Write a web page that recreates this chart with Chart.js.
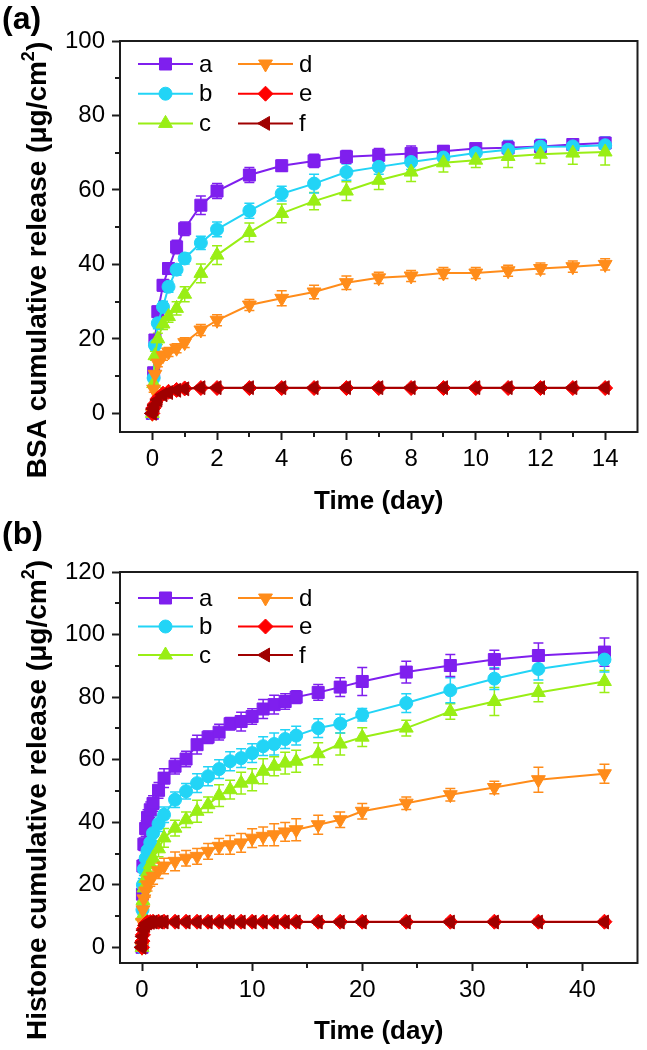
<!DOCTYPE html>
<html>
<head>
<meta charset="utf-8">
<script src="https://cdn.jsdelivr.net/npm/chart.js@4.4.1/dist/chart.umd.min.js"></script>
<style>
  html, body { margin: 0; padding: 0; background: #fff; }
  body { width: 647px; height: 1050px; position: relative; overflow: hidden; font-family: 'Liberation Sans', Arial, sans-serif; }
  .box { position: absolute; left: 0; width: 647px; }
  .panel { position: absolute; left: 2px; font-weight: bold; font-size: 32px; line-height: 36px; z-index: 2; }
</style>
</head>
<body>
<div class="box" style="top:0;height:520px"><canvas id="bsa"></canvas></div>
<div class="box" style="top:520px;height:530px"><canvas id="histone"></canvas></div>
<div class="panel" style="top:0px">(a)</div>
<div class="panel" style="top:515px">(b)</div>
<script>
// ---- (a) BSA release, days ----
const bsaDays = [0, 0.04, 0.08, 0.17, 0.33, 0.5, 0.75, 1, 1.5, 2, 3, 4, 5, 6, 7, 8, 9, 10, 11, 12, 13, 14];
const bsaA = [0, 10.9, 19.7, 27.3, 34.4, 38.9, 44.7, 49.6, 55.9, 59.7, 64, 66.5, 67.8, 68.9, 69.3, 69.8, 70.4, 71.1, 71.3, 71.7, 72.2, 72.6];
const bsaB = [0, 9.5, 18.3, 24.2, 28.6, 34, 38.6, 41.6, 45.8, 49.4, 54.4, 59, 61.7, 64.8, 66.2, 67.5, 68.7, 69.9, 70.8, 71.6, 71.7, 72];
const bsaC = [0, 8, 15.5, 20, 24, 26, 28.2, 32, 37.6, 42.5, 48.6, 53.7, 57, 59.7, 62.6, 64.8, 67.3, 68, 69, 69.6, 69.9, 70.2];
const bsaD = [0, 6.5, 10.5, 13.5, 15.5, 16.5, 17.5, 19, 22.4, 25, 29.1, 30.9, 32.6, 35.1, 36.4, 36.9, 37.7, 37.7, 38.3, 38.9, 39.4, 40];
const bsaE = [0, 1.5, 2.5, 4, 5.3, 5.8, 6.3, 6.7, 6.8, 6.8, 6.8, 6.8, 6.8, 6.8, 6.8, 6.8, 6.8, 6.8, 6.8, 6.8, 6.8, 6.8];
const bsaF = [0, 1.2, 2.2, 3.6, 5, 5.6, 6.2, 6.6, 6.9, 6.9, 6.9, 6.9, 6.9, 6.9, 6.9, 6.9, 6.9, 6.9, 6.9, 6.9, 6.9, 6.9];
// error bars (+/-)
const bsaErrA = [0.3, 1, 1.2, 1.5, 1.5, 1.5, 1.8, 1.8, 2.5, 2, 2, 1.5, 1.8, 1.7, 1.8, 2, 1.5, 1.3, 1.8, 1.8, 1.5, 1.5];
const bsaErrB = [0.3, 1, 1.2, 1.5, 1.5, 1.5, 1.5, 1.5, 1.8, 2, 2, 2, 2.5, 2.2, 2, 2, 2, 2, 2.5, 2, 2, 2.2];
const bsaErrC = [0.3, 1, 1.2, 1.5, 1.5, 1.5, 1.8, 2, 2.5, 2.5, 2.5, 2.5, 2.3, 2.5, 2.5, 2.5, 2.5, 2, 3, 2.5, 3, 3.5];
const bsaErrD = [0.3, 0.8, 1, 1, 1.2, 1.2, 1.2, 1.3, 1.5, 1.5, 1.5, 2, 1.8, 1.8, 1.5, 1.5, 1.5, 1.5, 1.5, 1.5, 1.5, 1.5];
const bsaErrE = [0.3, 0.6, 0.6, 0.6, 0.6, 0.6, 0.6, 0.6, 0.6, 0.6, 0.6, 0.6, 0.6, 0.6, 0.6, 0.6, 0.6, 0.6, 0.6, 0.6, 0.6, 0.6];
const bsaErrF = [0.3, 0.6, 0.6, 0.6, 0.6, 0.6, 0.6, 0.6, 0.6, 0.6, 0.6, 0.6, 0.6, 0.6, 0.6, 0.6, 0.6, 0.6, 0.6, 0.6, 0.6, 0.6];

// ---- (b) Histone release, days ----
const hisDays = [0, 0.04, 0.08, 0.17, 0.33, 0.5, 0.75, 1, 1.5, 2, 3, 4, 5, 6, 7, 8, 9, 10, 11, 12, 13, 14, 16, 18, 20, 24, 28, 32, 36, 42];
const hisA = [0, 17, 26, 33, 38, 41.5, 44, 46, 50.2, 54.1, 57.9, 60.2, 64.8, 67.2, 68.8, 71.5, 72.2, 73.8, 76.2, 77.6, 78.6, 80, 81.5, 83.2, 85, 88, 90.1, 92, 93.3, 94.4];
const hisB = [0, 12, 20, 25, 28.5, 31, 33.5, 36.5, 39.5, 42.4, 47.2, 49.9, 52.5, 54.7, 57, 59.5, 60.5, 62.1, 64.3, 65, 66.6, 67.7, 70.1, 71.5, 74.4, 78.1, 82.2, 85.9, 89, 92];
const hisC = [0, 10, 15, 19, 22, 24, 26.5, 28.5, 31.5, 35, 38.1, 40.8, 43.5, 45.6, 48.5, 50.4, 52.5, 53.6, 56.3, 57.9, 58.9, 59.5, 61.9, 65, 67.2, 70.1, 75.4, 78.6, 81.5, 85];
const hisD = [0, 8, 12, 15.5, 18, 20, 21.5, 22.7, 24.5, 26, 27.5, 28.5, 29.1, 30.7, 32.3, 32.8, 33.4, 34.9, 35.5, 36, 36.9, 37.6, 39.2, 40.8, 43.5, 46.1, 48.8, 51.1, 53.6, 55.5];
const hisE = [0, 2, 4, 6, 7.5, 8, 8.1, 8.2, 8.2, 8.2, 8.2, 8.2, 8.2, 8.2, 8.2, 8.2, 8.2, 8.2, 8.2, 8.2, 8.2, 8.2, 8.2, 8.2, 8.2, 8.2, 8.2, 8.2, 8.2, 8.2];
const hisF = [0, 1.5, 3.5, 5.5, 7, 7.8, 8, 8.1, 8.1, 8.1, 8.1, 8.1, 8.1, 8.1, 8.1, 8.1, 8.1, 8.1, 8.1, 8.1, 8.1, 8.1, 8.1, 8.1, 8.1, 8.1, 8.1, 8.1, 8.1, 8.1];
const hisErrA = [0.5, 1.5, 2, 2, 2.5, 2.5, 2.5, 2.5, 2.5, 3, 2.5, 2.5, 3, 2, 2.5, 2, 3, 2.5, 3, 3, 2.5, 2, 2.5, 3, 4.5, 3.5, 3.5, 3, 4, 4.5];
const hisErrB = [0.5, 1.5, 2, 2, 2, 2.5, 2.5, 2.5, 2.5, 2.5, 2.5, 2.5, 3, 3, 3, 3, 3, 3, 3, 3.5, 3, 3, 3, 3, 2, 3, 4, 3.5, 3.5, 4];
const hisErrC = [0.5, 1.5, 2, 2, 2, 2, 2.5, 2.5, 2.5, 3, 2.5, 2.5, 3.5, 2.5, 3.5, 3, 3.5, 3.5, 4, 3, 3.5, 3.5, 3.5, 3.5, 3, 2.5, 2.5, 4.5, 3, 3.5];
const hisErrD = [0.5, 1, 1.5, 1.5, 2, 2, 2, 2.5, 2.5, 2.5, 3, 2.5, 2.5, 2.5, 2.5, 3, 3, 3, 3, 3.5, 3, 3.5, 3, 2.5, 2.5, 2, 2, 2, 4, 3];
const hisErrE = [0.3, 0.8, 0.8, 0.8, 0.8, 0.8, 0.8, 0.8, 0.8, 0.8, 0.8, 0.8, 0.8, 0.8, 0.8, 0.8, 0.8, 0.8, 0.8, 0.8, 0.8, 0.8, 0.8, 0.8, 0.8, 0.8, 0.8, 0.8, 0.8, 0.8];
const hisErrF = [0.3, 0.8, 0.8, 0.8, 0.8, 0.8, 0.8, 0.8, 0.8, 0.8, 0.8, 0.8, 0.8, 0.8, 0.8, 0.8, 0.8, 0.8, 0.8, 0.8, 0.8, 0.8, 0.8, 0.8, 0.8, 0.8, 0.8, 0.8, 0.8, 0.8];

// series look
const names = ['a', 'b', 'c', 'd', 'e', 'f'];
const colors = ['#7F1FEE', '#22D4F6', '#99EE15', '#FF8C1A', '#FF0000', '#A00000'];
const styles = ['rect', 'circle', 'triangle', 'triangle', 'rectRot', 'triangle'];
const rotations = [0, 0, 0, 180, 0, -90];
const radii = [8.5, 6.5, 8, 8, 7.5, 8];

Chart.defaults.font.family = "'Liberation Sans', Arial, sans-serif";
Chart.defaults.color = '#000';
const axisColor = '#1c1c1c';

function isMajor(v, step) {
  return Math.abs(v / step - Math.round(v / step)) < 1e-6;
}

// error bars under the lines
const errorBars = {
  id: 'errorBars',
  beforeDatasetsDraw(chart) {
    const ctx = chart.ctx, xs = chart.scales.x, ys = chart.scales.y;
    ctx.save();
    for (let i = chart.data.datasets.length - 1; i >= 0; i--) {
      const ds = chart.data.datasets[i];
      ctx.strokeStyle = ds.borderColor;
      ctx.lineWidth = 1.5;
      ds.data.forEach((p, k) => {
        const e = ds.err[k];
        const px = xs.getPixelForValue(p.x);
        const top = ys.getPixelForValue(p.y + e);
        const bot = ys.getPixelForValue(p.y - e);
        ctx.beginPath();
        ctx.moveTo(px, top); ctx.lineTo(px, bot);
        ctx.moveTo(px - 5, top); ctx.lineTo(px + 5, top);
        ctx.moveTo(px - 5, bot); ctx.lineTo(px + 5, bot);
        ctx.stroke();
      });
    }
    ctx.restore();
  }
};

// top/right frame + short minor ticks
const frameTicks = {
  id: 'frameTicks',
  afterDraw(chart, args, o) {
    const ctx = chart.ctx, a = chart.chartArea;
    const xs = chart.scales.x, ys = chart.scales.y;
    ctx.save();
    ctx.strokeStyle = axisColor;
    ctx.lineWidth = 2;
    ctx.beginPath();
    ctx.moveTo(a.left, a.top); ctx.lineTo(a.right, a.top); ctx.lineTo(a.right, a.bottom + 1);
    ctx.stroke();
    xs.ticks.forEach(t => {
      if (isMajor(t.value, o.xMajor) || t.value <= xs.min || t.value >= xs.max) return;
      const px = Math.round(xs.getPixelForValue(t.value));
      ctx.beginPath(); ctx.moveTo(px, a.bottom); ctx.lineTo(px, a.bottom + 5); ctx.stroke();
    });
    ys.ticks.forEach(t => {
      if (isMajor(t.value, o.yMajor) || t.value <= ys.min || t.value >= ys.max) return;
      const py = Math.round(ys.getPixelForValue(t.value));
      ctx.beginPath(); ctx.moveTo(a.left, py); ctx.lineTo(a.left - 5, py); ctx.stroke();
    });
    ctx.restore();
  }
};

// two-column legend inside the plot
const legendBox = {
  id: 'legendBox',
  afterDraw(chart, args, o) {
    const ctx = chart.ctx, a = chart.chartArea;
    ctx.save();
    ctx.font = "24px 'Liberation Sans', Arial, sans-serif";
    ctx.textBaseline = 'middle';
    chart.data.datasets.forEach((ds, i) => {
      const col = Math.floor(i / 3), row = i % 3;
      const x0 = a.left + 18 + col * 100;
      const y = a.top + o.top + row * o.gap;
      ctx.strokeStyle = ds.borderColor;
      ctx.fillStyle = ds.backgroundColor;
      ctx.lineWidth = 2;
      ctx.beginPath(); ctx.moveTo(x0, y); ctx.lineTo(x0 + 55, y); ctx.stroke();
      ctx.lineWidth = 1;
      Chart.helpers.drawPoint(ctx, { pointStyle: ds.pointStyle, rotation: ds.pointRotation, radius: ds.pointRadius, borderWidth: 1 }, x0 + 27.5, y);
      ctx.fillStyle = '#000';
      ctx.fillText(ds.label, x0 + 61, y + 1);
    });
    ctx.restore();
  }
};

// rotated y title with superscript 2
const yTitle = {
  id: 'yTitle',
  afterDraw(chart, args, o) {
    const ctx = chart.ctx;
    const big = 'bold ' + o.size + "px 'Liberation Sans', Arial, sans-serif";
    const small = "bold 18px 'Liberation Sans', Arial, sans-serif";
    ctx.save();
    ctx.translate(o.x, o.y);
    ctx.rotate(-Math.PI / 2);
    ctx.fillStyle = '#000';
    ctx.textBaseline = 'middle';
    ctx.textAlign = 'left';
    ctx.font = big;
    const w1 = ctx.measureText(o.text).width, w3 = ctx.measureText(')').width;
    ctx.font = small;
    const w2 = ctx.measureText('2').width;
    let x = -(w1 + w2 + w3) / 2;
    ctx.font = big; ctx.fillText(o.text, x, 0); x += w1;
    ctx.font = small; ctx.fillText('2', x, -9); x += w2;
    ctx.font = big; ctx.fillText(')', x, 0);
    ctx.restore();
  }
};

function buildSets(days, series, errs) {
  return series.map((vals, i) => ({
    label: names[i],
    data: days.map((d, k) => ({ x: d, y: vals[k] })),
    err: errs[i],
    showLine: true,
    borderColor: colors[i],
    backgroundColor: colors[i],
    borderWidth: 2,
    pointStyle: styles[i],
    pointRotation: rotations[i],
    pointRadius: radii[i],
    pointBorderWidth: 1,
    tension: 0,
    order: 5 - i
  }));
}

function drawRelease(id, days, series, errs, o) {
  new Chart(document.getElementById(id), {
    type: 'scatter',
    data: { datasets: buildSets(days, series, errs) },
    plugins: [errorBars, frameTicks, legendBox, yTitle],
    options: {
      responsive: true,
      maintainAspectRatio: false,
      animation: false,
      events: [],
      layout: { padding: { top: o.padTop, right: 3, left: 0, bottom: 0 } },
      plugins: {
        legend: { display: false },
        tooltip: { enabled: false },
        frameTicks: { xMajor: o.xMajor, yMajor: o.yMajor },
        legendBox: { top: o.legTop, gap: o.legGap },
        yTitle: { text: o.yText, x: 38, y: o.yTitleY, size: o.yTitleSize }
      },
      scales: {
        x: {
          type: 'linear', min: o.xMin, max: o.xMax,
          afterFit: s => { s.height = o.xHeight; },
          border: { display: true, color: axisColor, width: 2 },
          grid: { drawOnChartArea: false, tickLength: 8, tickWidth: 2,
                  tickColor: c => isMajor(c.tick.value, o.xMajor) ? axisColor : 'rgba(0,0,0,0)' },
          ticks: { stepSize: o.xMinor, includeBounds: false, autoSkip: false, maxRotation: 0, padding: 5,
                   font: { size: 24 },
                   callback: v => (isMajor(v, o.xMajor) && v >= 0 && v < o.xMax) ? String(v) : '' },
          title: { display: true, text: 'Time (day)', font: { size: 26, weight: 'bold' }, padding: { top: 0, bottom: 3 } }
        },
        y: {
          min: o.yMin, max: o.yMax,
          afterFit: s => { s.width = 120; },
          border: { display: true, color: axisColor, width: 2 },
          grid: { drawOnChartArea: false, tickLength: 8, tickWidth: 2,
                  tickColor: c => isMajor(c.tick.value, o.yMajor) ? axisColor : 'rgba(0,0,0,0)' },
          ticks: { stepSize: o.yMinor, includeBounds: false, autoSkip: false, padding: 7,
                   font: { size: 24 },
                   callback: v => (isMajor(v, o.yMajor) && v >= 0) ? String(v) : '' }
        }
      }
    }
  });
}

drawRelease('bsa', bsaDays,
  [bsaA, bsaB, bsaC, bsaD, bsaE, bsaF],
  [bsaErrA, bsaErrB, bsaErrC, bsaErrD, bsaErrE, bsaErrF],
  { xMin: -1, xMax: 15, xMajor: 2, xMinor: 1, yMin: -5, yMax: 100, yMajor: 20, yMinor: 10,
    padTop: 41, xHeight: 88, legTop: 23, legGap: 29.7,
    yText: 'BSA cumulative release (μg/cm', yTitleY: 260, yTitleSize: 28 });

drawRelease('histone', hisDays,
  [hisA, hisB, hisC, hisD, hisE, hisF],
  [hisErrA, hisErrB, hisErrC, hisErrD, hisErrE, hisErrF],
  { xMin: -2, xMax: 45, xMajor: 10, xMinor: 5, yMin: -5, yMax: 120, yMajor: 20, yMinor: 10,
    padTop: 52, xHeight: 87, legTop: 26, legGap: 28.5,
    yText: 'Histone cumulative release (μg/cm', yTitleY: 280, yTitleSize: 28 });
</script>
</body>
</html>
